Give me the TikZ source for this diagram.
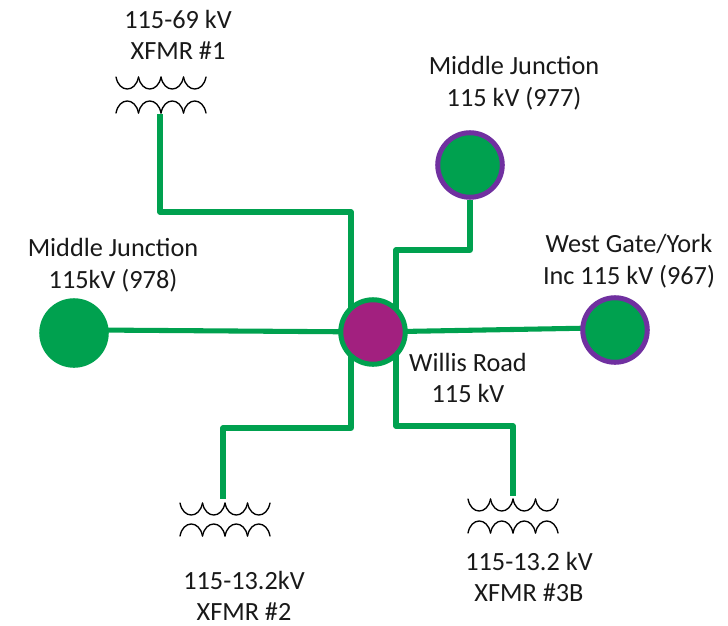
\documentclass[tikz,border=0pt]{standalone}
\usepackage{fontspec}
\setmainfont{Carlito}
\usetikzlibrary{backgrounds}
\definecolor{linegreen}{HTML}{00A14F}
\definecolor{hubpurple}{HTML}{A2207F}
\definecolor{ringpurple}{HTML}{7030A0}
\tikzset{
  busA/.style={circle,minimum size=48.4pt,inner sep=0,line width=3.75pt},
  feed/.style={draw=linegreen,line width=3.8pt,line join=round},
  coil/.style={draw=black,line width=1pt,line cap=round},
  lbl/.style={align=center,font=\fontsize{19.7}{23.7}\selectfont,inner sep=0,text=black!90}
}
\newcommand{\xfcups}[2]{%
  \foreach \k in {0,1,2,3}{%
    \draw[coil] ({#1+22.5*\k},#2) .. controls ({#1+22.5*\k+3},{#2+16}) and ({#1+22.5*\k+19.5},{#2+16}) .. ({#1+22.5*\k+22.5},#2);}}
\newcommand{\xfarches}[2]{%
  \foreach \k in {0,1,2,3}{%
    \draw[coil] ({#1+22.5*\k},#2) .. controls ({#1+22.5*\k+3},{#2-16}) and ({#1+22.5*\k+19.5},{#2-16}) .. ({#1+22.5*\k+22.5},#2);}}
\begin{document}
\begin{tikzpicture}[x=0.75pt,y=-0.75pt]
\useasboundingbox (0,0) rectangle (728,625);
% buses
\node[busA,fill=hubpurple,draw=linegreen] (hub) at (373,332) {};
\node[busA,fill=linegreen,draw=ringpurple] (mj977) at (470,165) {};
\node[busA,fill=linegreen,draw=ringpurple] (wg) at (615,330) {};
\node[busA,fill=linegreen,draw=linegreen] (mj978) at (74,333) {};
% transformers
\xfcups{116}{77}\xfarches{116}{113}
\xfcups{180}{503}\xfarches{180}{536}
\xfcups{468}{499}\xfarches{468}{533}
\coordinate (t1) at (160,114);
\coordinate (t2) at (223,499);
\coordinate (t3) at (513,496);
\coordinate (c1) at (160,212);
\coordinate (c2) at (351,212);
\coordinate (c2b) at (351,332);
\coordinate (c3) at (396,250);
\coordinate (c3b) at (396,332);
\coordinate (c4) at (470,250);
\coordinate (c5) at (351,428);
\coordinate (c6) at (223,428);
\coordinate (c7) at (396,426);
\coordinate (c8) at (513,426);
\coordinate (w1) at (95,330);
\coordinate (e1) at (595,328);
\begin{scope}[on background layer]
\draw[feed] (t1) -- (c1) -- (c2) -- (c2b);
\draw[feed] (mj977.south) -- (c4) -- (c3) -- (c3b);
\draw[feed] (w1) -- (hub.center);
\draw[feed] (hub.center) -- (e1);
\draw[feed] (c2b) -- (c5) -- (c6) -- (t2);
\draw[feed] (c3b) -- (c7) -- (c8) -- (t3);
\end{scope}
% labels
\node[lbl] (l1) at (178,35) {115-69 kV\\XFMR \#1};
\node[lbl] (l2) at (514,83) {Middle Junction\\115 kV (977)};
\node[lbl] (l3) at (629,261) {West Gate/York\\Inc 115 kV (967)};
\node[lbl] (l4) at (113,265) {Middle Junction\\115kV (978)};
\node[lbl] (l5) at (468,378) {Willis Road\\115 kV};
\node[lbl] (l6) at (244,596) {115-13.2kV\\XFMR \#2};
\node[lbl] (l7) at (529,577) {115-13.2 kV\\XFMR \#3B};
\end{tikzpicture}
\end{document}
